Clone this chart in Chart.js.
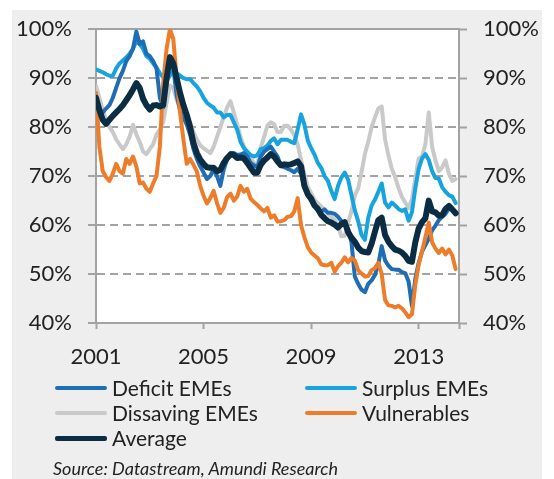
<!DOCTYPE html>
<html>
<head>
<meta charset="utf-8">
<script src="https://cdn.jsdelivr.net/npm/chart.js@4/dist/chart.umd.min.js"></script>
<style>
  html, body { margin: 0; padding: 0; background: #ffffff; }
  #wrap { position: relative; width: 554px; height: 479px; overflow: hidden;
          font-family: Lato, "Open Sans", sans-serif; color: #222222; }
  #panel { position: absolute; left: 12px; top: 10px; width: 530px; height: 469px; background: #eeeeee; }
  #c { position: absolute; left: 0; top: 0; }
  .leg { position: absolute; display: flex; align-items: center; font-size: 21px;
         line-height: 24px; white-space: nowrap; }
  .leg i { display: inline-block; width: 52px; margin-right: 5px; border-radius: 2px; }
  #src { position: absolute; left: 53px; top: 457px; font-size: 18px; font-style: italic; white-space: nowrap; }
</style>
</head>
<body>
<div id="wrap">
  <div id="panel"></div>
  <canvas id="c" width="554" height="479"></canvas>
  <div id="legend"></div>
  <div id="src">Source: Datastream, Amundi Research</div>
</div>
<script>
// Sample dates (decimal years, every 1.5 months)
const dates = [
  2001, 2001.125, 2001.25, 2001.375, 2001.5, 2001.625, 2001.75, 2001.875,
  2002, 2002.125, 2002.25, 2002.375, 2002.5, 2002.625, 2002.75, 2002.875,
  2003, 2003.125, 2003.25, 2003.375, 2003.5, 2003.625, 2003.75, 2003.875,
  2004, 2004.125, 2004.25, 2004.375, 2004.5, 2004.625, 2004.75, 2004.875,
  2005, 2005.125, 2005.25, 2005.375, 2005.5, 2005.625, 2005.75, 2005.875,
  2006, 2006.125, 2006.25, 2006.375, 2006.5, 2006.625, 2006.75, 2006.875,
  2007, 2007.125, 2007.25, 2007.375, 2007.5, 2007.625, 2007.75, 2007.875,
  2008, 2008.125, 2008.25, 2008.375, 2008.5, 2008.625, 2008.75, 2008.875,
  2009, 2009.125, 2009.25, 2009.375, 2009.5, 2009.625, 2009.75, 2009.875,
  2010, 2010.125, 2010.25, 2010.375, 2010.5, 2010.625, 2010.75, 2010.875,
  2011, 2011.125, 2011.25, 2011.375, 2011.5, 2011.625, 2011.75, 2011.875,
  2012, 2012.125, 2012.25, 2012.375, 2012.5, 2012.625, 2012.75, 2012.875,
  2013, 2013.125, 2013.25, 2013.375, 2013.5, 2013.625, 2013.75, 2013.875,
  2014, 2014.125, 2014.25, 2014.375
];

const deficitEMEs = [
  84.5, 83.5, 83, 83.8, 84.5, 86, 88, 90, 91.5, 93.5, 94.5, 96, 99.5, 97, 97.5, 95,
  94.5, 93.5, 92, 86, 84, 90, 93.5, 92, 86.5, 83.5, 82, 80.5,
  78.5, 75.5, 73.5, 72, 70.7, 69.4, 70, 71.4, 70, 68, 71.4, 73.4, 74.7, 74.7,
  74.3, 74.4, 74.7, 74, 72.7, 72.2, 71.8, 74, 75, 75.5, 76, 75, 74,
  72.1, 71.8, 71.5, 71.2, 70.8, 71.5, 70.5, 67.8, 66, 65, 64, 63, 62.8, 63.2,
  62.5, 62.5, 62.3, 61.7, 60.8, 60, 59.2, 56.5, 49.5, 48, 46.8, 46.3,
  48, 48.7, 49.8, 52, 55.7, 52.8, 51.7, 51, 50.9, 50.9, 50.4, 50.2, 48.5, 43.5,
  49, 52.3, 54.6, 55.9, 57.2, 58.9, 59.9, 61, 61.7, 62.3, 63.4, 63.2, 62.5
];

const surplusEMEs = [
  91.8, 91.5, 91.2, 90.8, 90.5, 90.5, 92, 93, 93.6, 94.2, 95, 96, 97.5, 97, 96, 94.5,
  94, 93, 92.2, 91, 90.2, 89.5, 90.5, 91.5, 91, 90.5, 90, 89.8,
  89.8, 89, 88.3, 87.3, 86, 85, 84.4, 84, 83, 83, 82, 82.5, 82.5, 81,
  79.5, 77, 75.7, 75, 74.3, 74, 74.3, 75.5, 75.7, 76.2, 77.2, 77.7, 76.5,
  77.4, 77.4, 77.4, 77, 76.7, 79.5, 82.6, 80.5, 77.3, 75.7, 74.4, 72.7, 71.7, 70,
  69, 67, 65.3, 68, 69.7, 70.7, 69.3, 66.1, 63, 60.8, 58, 57,
  61.5, 64, 65.2, 66.8, 68.5, 64.6, 63.6, 64.6, 64, 63.3, 62.9, 63.2, 60.9, 62.6,
  67.5, 71.5, 73.6, 74.5, 73.3, 71, 69.6, 69.5, 67.7, 66.8, 66.1, 65.8, 64.5
];

const dissavingEMEs = [
  88.5, 86, 83.5, 81.5, 80, 79, 77.5, 76.5, 75.5, 76.5, 78, 80.5, 78.5, 77, 75, 74.5,
  75.5, 76.5, 78.5, 79.5, 81, 85, 88.5, 88, 85.5, 84, 82.5, 81.5,
  81, 79, 77.5, 76.3, 75.7, 75.2, 74.7, 76, 78, 80, 82, 84, 85.3, 83,
  80.6, 78, 76, 74.7, 73.5, 72.7, 72.3, 75.8, 78, 80.3, 81, 80.6, 79,
  79, 80.3, 80.3, 79.5, 78.3, 76.5, 73.3, 70.5, 67.8, 66.5, 65.2, 64.5, 63.8, 63,
  62.4, 61.7, 61.1, 60, 57.7, 57.8, 60.5, 62.8, 66, 67.5, 70.8, 74.5,
  77, 80, 82, 83.8, 84.2, 77.5, 74.2, 71.5, 69.8, 67.6, 65.8, 64.6, 63.5, 65.3,
  69.5, 73.6, 74, 76.5, 83, 76, 73.2, 71, 71.8, 73.2, 70.5, 69, 69.4
];

const vulnerables = [
  87, 76, 71, 69.8, 69, 70.5, 72.5, 71, 70.5, 73.5, 72.5, 74, 72, 68.5, 68.7, 67.4,
  66.8, 68.5, 70, 76, 89, 96, 100, 98, 90, 83, 77.5, 72.5,
  73.5, 72.3, 71, 68, 66, 64.4, 65.5, 67, 64.5, 62.5, 63.5, 65.7, 66.4, 65,
  65.8, 68, 66.8, 67.4, 65.4, 64.7, 64.1, 63.4, 62.8, 63.5, 61.5, 62, 60.7,
  60.8, 61, 61.7, 61.8, 62.8, 65.5, 60, 57.5, 55.5, 54.4, 53.8, 53.2, 52, 51.8,
  51.8, 52.3, 50.5, 51.6, 52.3, 53.4, 52.4, 53.3, 52.8, 50.8, 50.1, 49.5,
  49.6, 50.8, 51.2, 52.3, 50, 44.7, 43.6, 43.5, 43.2, 43.5, 43, 42.2, 41.2, 41.8,
  47.8, 51.9, 54.6, 57.5, 60.5, 56.5, 55.2, 54.3, 55.2, 54, 55, 53.8, 51
];

const average = [
  86, 83.5, 81.5, 80.7, 81.5, 82.3, 83, 83.7, 84.5, 85.5, 86.5, 87.7, 89, 88, 85.8, 84.5,
  83.6, 84.4, 84.5, 84.2, 84.5, 90, 94.3, 93, 90, 87, 84.5, 82.5,
  80, 76.7, 74.7, 73.4, 72.5, 71.8, 71.7, 71.7, 71, 71.3, 72.7, 73.7, 74.4, 74.3,
  73.7, 73.8, 73.6, 72.7, 71.7, 70.7, 70.7, 72.3, 73.2, 73.8, 74.5, 74, 73,
  72.2, 72.4, 72.3, 72.4, 72.7, 73, 72, 68, 66.3, 65.4, 64, 63.3, 62.1, 61.4,
  60.8, 60.5, 60.1, 59.5, 60.2, 60.6, 58.6, 57.4, 56.6, 55.4, 54.7, 54.5,
  54.4, 56.2, 58.7, 61, 61.5, 58, 56.6, 55.7, 55, 54.8, 54.4, 53.7, 52.7, 52.5,
  56.5, 59.3, 60.6, 61.4, 65, 62.8, 62.6, 61.9, 62, 63.3, 63.9, 63.2, 62.4
];

const xTicks = [2001, 2005, 2009, 2013];
const yTicks = [40, 50, 60, 70, 80, 90, 100];

// Series styling; lower "order" is painted on top
const series = [
  { name: 'Deficit EMEs',   values: deficitEMEs,   color: '#1f6db4', width: 4, order: 2 },
  { name: 'Surplus EMEs',   values: surplusEMEs,   color: '#16a3de', width: 4, order: 3 },
  { name: 'Dissaving EMEs', values: dissavingEMEs, color: '#c9c9c9', width: 4, order: 4 },
  { name: 'Vulnerables',    values: vulnerables,   color: '#ee7d2b', width: 4, order: 1 },
  { name: 'Average',        values: average,       color: '#0b2d44', width: 6, order: 0 }
];

// Legend: two columns, three rows
const legendSlots = [[55, 388], [305, 388], [55, 413], [305, 413], [55, 438]];
const legendEl = document.getElementById('legend');
series.forEach((s, i) => {
  const [lx, ly] = legendSlots[i];
  const item = document.createElement('div');
  item.className = 'leg';
  item.style.left = lx + 'px';
  item.style.top = (ly - 12) + 'px';
  const swatch = document.createElement('i');
  swatch.style.background = s.color;
  swatch.style.height = (s.width > 4 ? 5 : 4) + 'px';
  item.appendChild(swatch);
  item.appendChild(document.createTextNode(s.name));
  legendEl.appendChild(item);
});

const axisGrey = '#a3a3a3';
const textColor = '#222222';
const tickFont = { family: 'Lato, "Open Sans", sans-serif', size: 22 };

const plotBackground = {
  id: 'plotBackground',
  beforeDraw(chart) {
    const { ctx, chartArea: a } = chart;
    ctx.save();
    ctx.fillStyle = '#ffffff';
    ctx.fillRect(a.left, a.top, a.right - a.left, a.bottom - a.top);
    ctx.restore();
  }
};

new Chart(document.getElementById('c'), {
  type: 'line',
  data: {
    datasets: series.map(s => ({
      label: s.name,
      data: dates.map((d, i) => ({ x: d, y: s.values[i] })),
      borderColor: s.color,
      borderWidth: s.width,
      pointRadius: 0,
      tension: 0,
      order: s.order,
      borderJoinStyle: 'round',
      borderCapStyle: 'round',
      fill: false
    }))
  },
  options: {
    responsive: false,
    animation: false,
    devicePixelRatio: 1,
    layout: { padding: { top: 23, left: 0, right: 0, bottom: 0 } },
    plugins: { legend: { display: false }, tooltip: { enabled: false } },
    scales: {
      x: {
        type: 'linear', min: 2001, max: 2014.5,
        afterFit(s) { s.height = 156; },
        afterBuildTicks(s) { s.ticks = xTicks.concat([2014.5]).map(v => ({ value: v })); },
        ticks: {
          autoSkip: false, maxRotation: 0, padding: 15,
          font: tickFont, color: textColor,
          callback: v => (xTicks.includes(v) ? String(v) : '')
        },
        grid: { drawOnChartArea: false, drawTicks: true, tickLength: 6, tickColor: axisGrey, tickWidth: 2 },
        border: { color: axisGrey, width: 2 }
      },
      xTop: {
        type: 'linear', position: 'top', min: 2001, max: 2014.5,
        afterFit(s) { s.height = 0; },
        ticks: { display: false },
        grid: { display: false },
        border: { display: true, color: axisGrey, width: 2 }
      },
      y: {
        position: 'left', min: 40, max: 100,
        afterFit(s) { s.width = 96; },
        afterBuildTicks(s) { s.ticks = yTicks.map(v => ({ value: v })); },
        ticks: { padding: 16, font: tickFont, color: textColor, callback: v => v + '%' },
        grid: { color: axisGrey, lineWidth: 2, drawTicks: true, tickLength: 8, tickColor: axisGrey, tickWidth: 2 },
        border: { color: axisGrey, width: 2, dash: [8, 5] }
      },
      y2: {
        position: 'right', min: 40, max: 100,
        afterFit(s) { s.width = 95; },
        afterBuildTicks(s) { s.ticks = yTicks.map(v => ({ value: v })); },
        ticks: { padding: 16, font: tickFont, color: textColor, callback: v => v + '%' },
        grid: { drawOnChartArea: false, drawTicks: true, tickLength: 8, tickColor: axisGrey, tickWidth: 2 },
        border: { color: axisGrey, width: 2 }
      }
    }
  },
  plugins: [plotBackground]
});
</script>
</body>
</html>
